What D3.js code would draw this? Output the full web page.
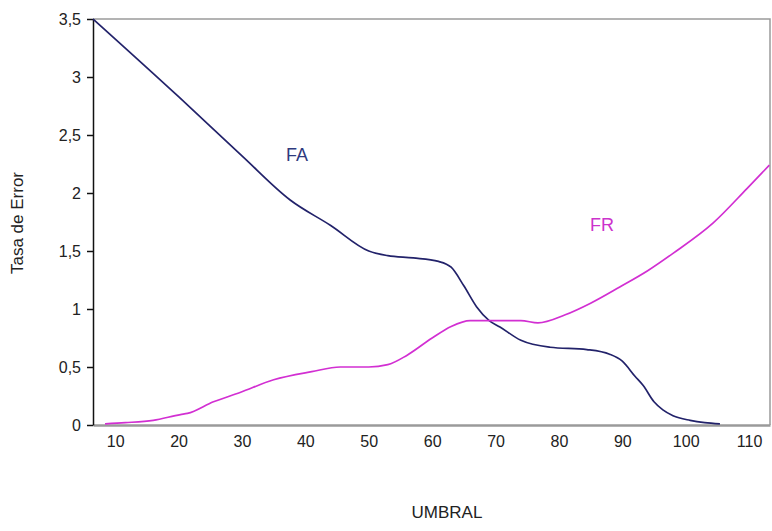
<!DOCTYPE html>
<html lang="es">
<head>
<meta charset="UTF-8" />
<title>Tasa de Error vs Umbral</title>
<script src="https://cdn.jsdelivr.net/npm/d3@7"></script>
<style>
  body { margin: 0; background: #fff; }
  text { font-family: "Liberation Sans", Arial, sans-serif; }
</style>
</head>
<body>
<div class="chart"></div>
<script>
// umbral values and error rates
var faX = [6.5, 20, 30, 37.6, 44, 50, 53, 57, 61, 63, 65, 67, 69, 70.7, 74, 78.6, 84.4, 88, 90, 92, 93.3, 95, 96.4, 98, 100.7, 103, 105.4];
var faY = [3.5, 2.83, 2.32, 1.94, 1.72, 1.5, 1.46, 1.44, 1.41, 1.36, 1.2, 1.02, 0.9, 0.845, 0.73, 0.67, 0.65, 0.61, 0.55, 0.42, 0.34, 0.2, 0.13, 0.08, 0.04, 0.02, 0.01];

var frX = [8.4, 11.6, 16, 20.3, 21.4, 25.5, 29.7, 35, 41, 45.5, 50, 53, 56, 60, 63, 66, 70.7, 74, 76.7, 81, 85, 89.6, 94, 98, 104.3, 109.7, 113.2];
var frY = [0.01, 0.02, 0.04, 0.09, 0.1, 0.2, 0.28, 0.39, 0.46, 0.5, 0.5, 0.52, 0.6, 0.75, 0.85, 0.9, 0.9, 0.9, 0.88, 0.95, 1.05, 1.19, 1.33, 1.48, 1.74, 2.04, 2.24];

var xTicks = [10, 20, 30, 40, 50, 60, 70, 80, 90, 100, 110];
var yTicks = [0, 0.5, 1, 1.5, 2, 2.5, 3, 3.5];

var w = 772, h = 531;
var mLeft = 93, mRight = 770, mTop = 19, mBottom = 425;

var svg = d3.select(".chart").append("svg")
  .attr("width", w)
  .attr("height", h);

var x = d3.scaleLinear().domain([6.5, 113.3]).range([mLeft, mRight]);
var y = d3.scaleLinear().domain([0, 3.5]).range([mBottom, mTop]);

// frame: top and right in grey
svg.append("path")
   .attr("d", "M" + mLeft + "," + mTop + "H" + mRight + "V" + mBottom)
   .attr("fill", "none")
   .attr("stroke", "#9a9a9a")
   .attr("stroke-width", 1.5);

// bottom axis, no ticks
var xAxis = svg.append("g")
   .attr("transform", "translate(0," + mBottom + ")")
   .call(d3.axisBottom(x).tickValues(xTicks).tickSize(0).tickPadding(11)
          .tickFormat(d3.format("d")));
xAxis.select(".domain").attr("stroke", "#9a9a9a").attr("stroke-width", 2.5);
xAxis.selectAll("text").attr("font-size", 16).attr("fill", "#222")
     .attr("font-family", "Liberation Sans, Arial, sans-serif");

// left axis
var yAxis = svg.append("g")
   .attr("transform", "translate(" + mLeft + ",0)")
   .call(d3.axisLeft(y).tickValues(yTicks).tickSize(6).tickSizeOuter(0).tickPadding(6)
          .tickFormat(function(d) { return String(d).replace(".", ","); }));
yAxis.select(".domain").attr("stroke", "#111").attr("stroke-width", 1.5);
yAxis.selectAll("line").attr("stroke", "#111").attr("stroke-width", 1.5);
yAxis.selectAll("text").attr("font-size", 16).attr("fill", "#222")
     .attr("font-family", "Liberation Sans, Arial, sans-serif");

var line = d3.line()
  .x(function(d) { return x(d[0]); })
  .y(function(d) { return y(d[1]); })
  .curve(d3.curveMonotoneX);

svg.append("path")
   .datum(d3.zip(faX, faY))
   .attr("d", line)
   .attr("fill", "none")
   .attr("stroke", "#22226a")
   .attr("stroke-width", 1.7);

svg.append("path")
   .datum(d3.zip(frX, frY))
   .attr("d", line)
   .attr("fill", "none")
   .attr("stroke", "#d22fd2")
   .attr("stroke-width", 1.7);

// series labels
svg.append("text")
   .attr("x", x(38.7)).attr("y", y(2.33) + 6)
   .attr("text-anchor", "middle")
   .attr("font-size", 18)
   .attr("fill", "#2e3a7e")
   .text("FA");

svg.append("text")
   .attr("x", x(86.8)).attr("y", y(1.72) + 6)
   .attr("text-anchor", "middle")
   .attr("font-size", 18)
   .attr("fill", "#cc33cc")
   .text("FR");

// axis titles
svg.append("text")
   .attr("transform", "translate(23,223) rotate(-90)")
   .attr("text-anchor", "middle")
   .attr("font-size", 17)
   .attr("fill", "#222")
   .text("Tasa de Error");

svg.append("text")
   .attr("x", 447).attr("y", 518)
   .attr("text-anchor", "middle")
   .attr("font-size", 17)
   .attr("fill", "#222")
   .text("UMBRAL");
</script>
</body>
</html>
